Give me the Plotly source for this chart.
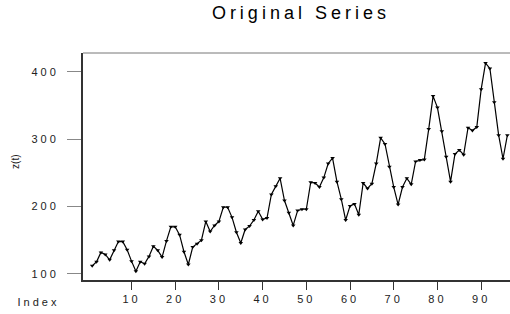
import plotly.graph_objects as go

index = list(range(1, 97))
z = [112, 118, 132, 129, 121, 135, 148, 148, 136, 119, 104, 118,
     115, 126, 141, 135, 125, 149, 170, 170, 158, 133, 114, 140,
     145, 150, 178, 163, 172, 178, 199, 199, 184, 162, 146, 166,
     171, 180, 193, 181, 183, 218, 230, 242, 209, 191, 172, 194,
     196, 196, 236, 235, 229, 243, 264, 272, 237, 211, 180, 201,
     204, 188, 235, 227, 234, 264, 302, 293, 259, 229, 203, 229,
     242, 233, 267, 269, 270, 315, 364, 347, 312, 274, 237, 278,
     284, 277, 317, 313, 318, 374, 413, 405, 355, 306, 271, 306]
x_ticks = [10, 20, 30, 40, 50, 60, 70, 80, 90]
y_ticks = [100, 200, 300, 400]

font = "Liberation Sans, Arial, sans-serif"

fig = go.Figure(go.Scatter(
    x=index, y=z, mode="lines+markers",
    line=dict(color="black", width=1.2),
    marker=dict(symbol="triangle-down", size=4, color="black"),
    cliponaxis=False,
))

fig.update_layout(
    width=510, height=314,
    margin=dict(l=83, r=0, t=53, b=34),
    paper_bgcolor="white", plot_bgcolor="white",
    showlegend=False,
    title=dict(text="Original Series", x=0.59, xanchor="center", y=0.958, yanchor="middle",
               font=dict(family=font, size=18, color="black")),
    xaxis=dict(range=[-1.1, 96.6], tickvals=x_ticks, ticks="outside", ticklen=8,
               tickcolor="#333", tickwidth=1, showgrid=False, zeroline=False,
               showline=True, linecolor="#333", linewidth=2,
               tickfont=dict(family=font, size=11, color="#222")),
    yaxis=dict(range=[91, 428], tickvals=y_ticks, ticks="outside", ticklen=14,
               tickcolor="#888", tickwidth=1, showgrid=False, zeroline=False,
               showline=True, linecolor="#333", linewidth=2, ticklabelstandoff=6,
               tickfont=dict(family=font, size=11, color="#222")),
    shapes=[dict(type="line", xref="paper", yref="paper", x0=0, x1=1, y0=1, y1=1,
                 line=dict(color="#777", width=1))],
    annotations=[
        dict(text="Index", xref="paper", yref="paper", x=-0.105, y=-0.097,
             xanchor="center", yanchor="middle", showarrow=False,
             font=dict(family=font, size=11, color="#222")),
        dict(text="z(t)", xref="paper", yref="paper", x=-0.157, y=0.52,
             xanchor="center", yanchor="middle", showarrow=False, textangle=-90,
             font=dict(family=font, size=10, color="#222")),
    ],
)

post = """
document.body.style.margin='0px';
document.body.style.overflow='hidden';
var gd = document.getElementById('{plot_id}');
function spacing(){
  gd.querySelectorAll('.gtitle').forEach(function(e){e.setAttribute('letter-spacing','4px');});
  gd.querySelectorAll('.xtick text, .ytick text').forEach(function(e){e.setAttribute('letter-spacing','3px');});
  gd.querySelectorAll('.annotation[data-index="0"] text').forEach(function(e){e.setAttribute('letter-spacing','3px');});
}
spacing();
gd.on('plotly_afterplot', spacing);
"""

fig.write_html("out.html", config={"displayModeBar": False}, post_script=post)
